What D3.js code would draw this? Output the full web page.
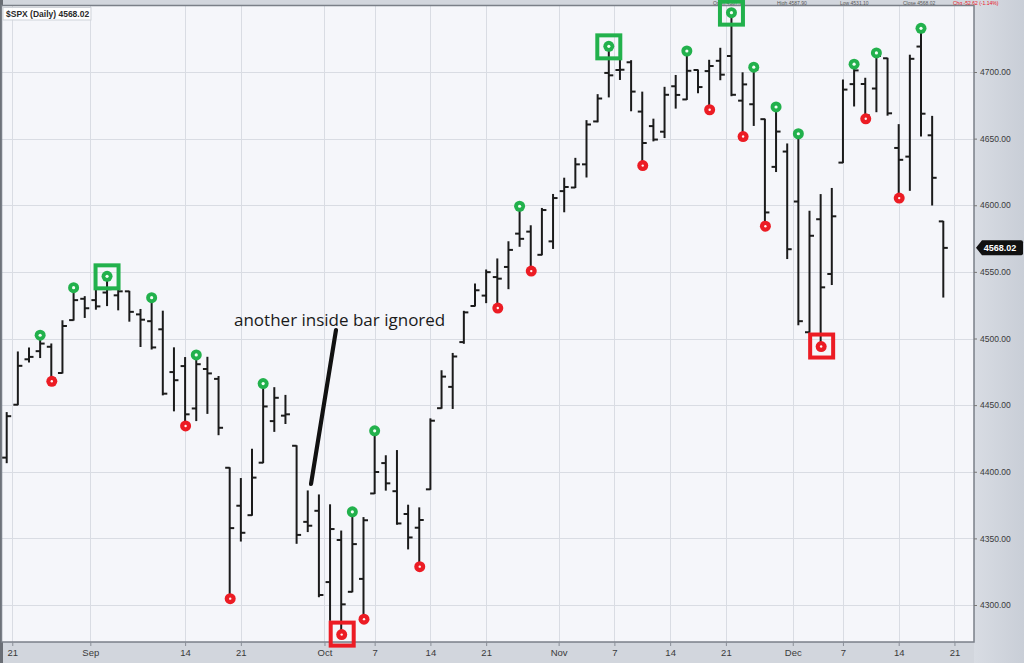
<!DOCTYPE html>
<html>
<head>
<meta charset="utf-8">
<script src="https://cdn.jsdelivr.net/npm/d3@7"></script>
<style>
  html, body { margin: 0; padding: 0; background: #cfd4dc; }
  svg { display: block; }
</style>
</head>
<body>
<svg id="chart" width="1024" height="663"></svg>
<script>
// ---------------- DATA ----------------
const dates = ["Aug 20","Aug 23","Aug 24","Aug 25","Aug 26","Aug 27","Aug 30","Aug 31",
  "Sep 1","Sep 2","Sep 3","Sep 7","Sep 8","Sep 9","Sep 10","Sep 13","Sep 14","Sep 15","Sep 16","Sep 17",
  "Sep 20","Sep 21","Sep 22","Sep 23","Sep 24","Sep 27","Sep 28","Sep 29","Sep 30",
  "Oct 1","Oct 4","Oct 5","Oct 6","Oct 7","Oct 8","Oct 11","Oct 12","Oct 13","Oct 14","Oct 15",
  "Oct 18","Oct 19","Oct 20","Oct 21","Oct 22","Oct 25","Oct 26","Oct 27","Oct 28","Oct 29",
  "Nov 1","Nov 2","Nov 3","Nov 4","Nov 5","Nov 8","Nov 9","Nov 10","Nov 11","Nov 12",
  "Nov 15","Nov 16","Nov 17","Nov 18","Nov 19","Nov 22","Nov 23","Nov 24","Nov 26","Nov 29","Nov 30",
  "Dec 1","Dec 2","Dec 3","Dec 6","Dec 7","Dec 8","Dec 9","Dec 10","Dec 13","Dec 14","Dec 15",
  "Dec 16","Dec 17","Dec 20"];

const opens = [4410.6,4450.3,4484.4,4490.5,4493.8,4474.1,4513.8,4529.8,
  4528.8,4534.5,4532.4,4535.4,4518.1,4513.0,4506.9,4474.8,4479.3,4447.5,4477.1,4469.7,
  4403.0,4374.5,4367.4,4406.8,4438.0,4442.1,4419.5,4362.4,4370.7,
  4317.2,4348.8,4309.9,4319.6,4383.7,4406.5,4385.4,4368.3,4358.0,4386.8,4447.7,
  4463.7,4497.3,4524.4,4532.2,4546.1,4553.7,4578.7,4580.2,4562.8,4572.9,
  4610.6,4613.3,4630.7,4662.9,4699.3,4701.5,4707.3,4670.3,4659.4,4655.2,
  4689.3,4679.4,4701.5,4700.7,4708.4,4712.0,4678.5,4675.8,4664.6,4628.8,4640.3,
  4602.8,4504.7,4589.5,4548.4,4632.0,4690.9,4691.0,4687.6,4710.3,4643.0,4636.5,
  4719.1,4652.5,4587.9];

const highs = [4444.4,4489.9,4492.8,4501.7,4495.9,4513.3,4537.4,4531.4,
  4537.1,4545.9,4541.5,4535.4,4521.8,4529.9,4520.5,4493.0,4485.7,4486.9,4485.9,4471.5,
  4403.0,4394.9,4416.8,4465.4,4463.1,4457.3,4419.5,4385.6,4382.6,
  4375.2,4355.5,4369.2,4365.6,4430.0,4412.0,4415.9,4374.9,4372.9,4439.7,4475.8,
  4488.8,4520.4,4540.9,4551.4,4559.7,4572.6,4598.5,4584.6,4597.6,4608.1,
  4620.3,4635.2,4663.5,4683.0,4718.5,4714.9,4708.5,4684.9,4664.6,4688.5,
  4697.4,4715.0,4701.5,4708.8,4717.8,4743.8,4699.4,4702.9,4664.6,4673.0,4646.0,
  4652.9,4595.5,4608.0,4612.6,4694.0,4705.1,4695.3,4713.6,4710.3,4660.5,4712.6,
  4732.0,4666.7,4587.9];

const lows = [4406.8,4450.3,4482.3,4485.7,4469.0,4474.1,4513.8,4515.8,
  4522.0,4524.7,4521.5,4513.0,4494.0,4492.1,4457.7,4445.7,4435.5,4438.4,4443.8,4427.8,
  4305.9,4348.0,4367.4,4406.8,4430.3,4436.2,4346.3,4355.1,4306.2,
  4288.5,4278.9,4309.9,4290.5,4383.7,4386.2,4360.6,4342.1,4329.9,4386.8,4447.7,
  4447.5,4496.4,4524.4,4526.9,4524.0,4537.4,4569.2,4551.7,4562.8,4567.6,
  4595.1,4613.3,4621.2,4662.6,4681.3,4694.4,4670.9,4630.9,4648.3,4650.8,
  4672.9,4679.4,4684.4,4672.8,4694.2,4682.2,4652.7,4659.9,4585.4,4625.3,4560.0,
  4510.3,4504.7,4495.1,4540.5,4632.0,4674.5,4666.0,4670.2,4667.6,4606.5,4611.2,
  4651.9,4600.2,4531.1];

const closes = [4441.7,4479.5,4486.2,4496.2,4470.0,4509.4,4528.8,4522.7,
  4524.1,4537.0,4535.4,4520.0,4514.1,4493.3,4458.6,4468.7,4443.1,4480.7,4473.8,4433.0,
  4357.7,4354.2,4395.6,4449.0,4455.5,4443.1,4352.6,4359.5,4307.5,
  4357.0,4300.5,4345.7,4363.6,4399.8,4391.3,4361.2,4350.7,4363.8,4438.3,4471.4,
  4486.5,4519.6,4536.2,4549.8,4544.9,4566.5,4574.8,4551.7,4596.4,4605.4,
  4613.7,4630.7,4660.6,4680.1,4697.5,4701.7,4685.3,4646.7,4649.3,4682.9,
  4682.8,4700.9,4688.7,4704.5,4698.0,4682.9,4690.7,4701.5,4594.6,4655.3,4567.0,
  4513.0,4577.1,4538.4,4591.7,4686.8,4701.2,4667.5,4712.0,4669.0,4634.1,4709.9,
  4668.7,4620.6,4568.0];

// swing markers
const highCircles = ["Aug 25","Aug 30","Sep 2","Sep 9","Sep 15","Sep 23","Oct 5","Oct 7","Oct 26",
  "Nov 5","Nov 16","Nov 22","Nov 24","Nov 29","Dec 1","Dec 8","Dec 10","Dec 16"];
const lowCircles = ["Aug 26","Sep 14","Sep 20","Oct 4","Oct 6","Oct 13","Oct 22","Oct 27","Nov 10",
  "Nov 18","Nov 23","Nov 26","Dec 3","Dec 9","Dec 14"];
const highSquares = ["Sep 2","Nov 5","Nov 22"];
const lowSquares = ["Oct 4","Dec 3"];

// axes
const yTickValues = [4300,4350,4400,4450,4500,4550,4600,4650,4700];
const xTickLabels = ["21","Sep","14","21","Oct","7","14","21","Nov","7","14","21","Dec","7","14","21"];
const xTickAt     = [0.5, 7.5, 16, 21, 28.5, 33, 38, 43, 49.5, 54.5, 59.5, 64.5, 70.5, 75, 80, 85];

const title = "$SPX (Daily) 4568.02";
const lastPrice = 4568.02;
const headerItems = ["Open 4587.90","High 4587.90","Low 4531.10","Close 4568.02","Chg -52.62 (-1.14%)"];
const annotation = "another inside bar ignored";

// ---------------- CHART ----------------
const W = 1024, H = 663;
const plot = {left: 1.5, top: 5.5, right: 974, bottom: 642};
const svg = d3.select("#chart");

const x = d3.scaleLinear().domain([0, 84]).range([6.7, 943.3]);
const y = d3.scaleLinear().domain([4300, 4700]).range([605, 72]);
const idx = d => dates.indexOf(d);

const bars = dates.map((d, i) => ({d, i, o: opens[i], h: highs[i], l: lows[i], c: closes[i]}));

// background
svg.append("rect").attr("width", W).attr("height", H).attr("fill", "#d2d6dd");
const grad = svg.append("defs").append("linearGradient").attr("id", "axg")
  .attr("x1", 0).attr("x2", 1).attr("y1", 0).attr("y2", 0);
grad.append("stop").attr("offset", "0%").attr("stop-color", "#d8dce3");
grad.append("stop").attr("offset", "100%").attr("stop-color", "#c9ced7");
svg.append("rect").attr("x", plot.right).attr("y", 0).attr("width", W - plot.right).attr("height", H).attr("fill", "url(#axg)");
svg.append("rect").attr("x", 0).attr("y", 0).attr("width", 3).attr("height", H).attr("fill", "#6a6e75");

// header strip text (tiny, inside the top strip)
const hx = [713, 777, 840, 903, 953];
svg.append("g").selectAll("text").data(headerItems).join("text")
  .attr("x", (d, i) => hx[i]).attr("y", 4.6)
  .attr("font-family", "Liberation Sans, Arial, sans-serif").attr("font-size", 5)
  .attr("fill", (d, i) => i === 4 ? "#e8141c" : "#555")
  .text(d => d);

// plot area
svg.append("rect").attr("x", plot.left).attr("y", plot.top)
  .attr("width", plot.right - plot.left).attr("height", plot.bottom - plot.top)
  .attr("fill", "#f5f6fa");

// grid
const grid = svg.append("g").attr("stroke", "#d9dce3").attr("stroke-width", 1);
grid.selectAll("line.h").data(yTickValues).join("line").attr("class", "h")
  .attr("x1", plot.left).attr("x2", plot.right)
  .attr("y1", d => Math.round(y(d)) + 0.5).attr("y2", d => Math.round(y(d)) + 0.5);
grid.selectAll("line.v").data(xTickAt).join("line").attr("class", "v")
  .attr("y1", plot.top).attr("y2", plot.bottom)
  .attr("x1", d => Math.round(x(d)) + 0.5).attr("x2", d => Math.round(x(d)) + 0.5);

// plot border
svg.append("rect").attr("x", plot.left).attr("y", plot.top)
  .attr("width", plot.right - plot.left).attr("height", plot.bottom - plot.top)
  .attr("fill", "none").attr("stroke", "#7a7f88").attr("stroke-width", 1.5);

// axes
const yAxis = d3.axisRight(y).tickValues(yTickValues).tickFormat(d => d.toFixed(2)).tickSize(3).tickPadding(3);
const gy = svg.append("g").attr("transform", `translate(${plot.right},0)`).call(yAxis);
gy.select(".domain").remove();
gy.selectAll("line").attr("stroke", "#777");
gy.selectAll("text").attr("font-family", "Liberation Sans, Arial, sans-serif").attr("font-size", 8.5).attr("fill", "#3a3a3a");

const xAxis = d3.axisBottom(x).tickValues(xTickAt).tickFormat((d, i) => xTickLabels[i]).tickSize(4).tickPadding(3);
const gx = svg.append("g").attr("transform", `translate(0,${plot.bottom})`).call(xAxis);
gx.select(".domain").remove();
gx.selectAll("line").attr("stroke", "#8a8f98");
gx.selectAll("text").attr("font-family", "Liberation Sans, Arial, sans-serif").attr("font-size", 9.5).attr("fill", "#3a3a3a");

// OHLC bars
const gb = svg.append("g").attr("stroke", "#1b1b1b").attr("stroke-width", 2);
gb.selectAll("line.hl").data(bars).join("line").attr("class", "hl")
  .attr("x1", b => x(b.i)).attr("x2", b => x(b.i))
  .attr("y1", b => y(b.h) - 0.5).attr("y2", b => y(b.l) + 0.5);
gb.selectAll("line.op").data(bars).join("line").attr("class", "op")
  .attr("x1", b => x(b.i) - 4.5).attr("x2", b => x(b.i))
  .attr("y1", b => y(b.o)).attr("y2", b => y(b.o));
gb.selectAll("line.cl").data(bars).join("line").attr("class", "cl")
  .attr("x1", b => x(b.i)).attr("x2", b => x(b.i) + 4.5)
  .attr("y1", b => y(b.c)).attr("y2", b => y(b.c));

const GREEN = "#22b14c", RED = "#ec1c24";

// squares
const sq = svg.append("g").attr("fill", "none").attr("stroke-width", 4);
sq.selectAll("rect.hs").data(highSquares).join("rect").attr("class", "hs")
  .attr("stroke", GREEN)
  .attr("x", d => x(idx(d)) - 11.5).attr("y", d => y(highs[idx(d)]) - 12)
  .attr("width", 23).attr("height", 23);
sq.selectAll("rect.ls").data(lowSquares).join("rect").attr("class", "ls")
  .attr("stroke", RED)
  .attr("x", d => x(idx(d)) - 10.5).attr("y", d => y(lows[idx(d)]) - 10.5)
  .attr("width", 23).attr("height", 23);

// circles
const gc = svg.append("g");
gc.selectAll("circle.hc").data(highCircles).join("circle").attr("class", "hc")
  .attr("cx", d => x(idx(d))).attr("cy", d => y(highs[idx(d)]) - 1)
  .attr("r", 5.5).attr("fill", GREEN);
gc.selectAll("circle.hci").data(highCircles).join("circle").attr("class", "hci")
  .attr("cx", d => x(idx(d))).attr("cy", d => y(highs[idx(d)]) - 1)
  .attr("r", 1.6).attr("fill", "#f4fff6");
gc.selectAll("circle.lc").data(lowCircles).join("circle").attr("class", "lc")
  .attr("cx", d => x(idx(d)) + 0.5).attr("cy", d => y(lows[idx(d)]) + 1.5)
  .attr("r", 5.5).attr("fill", RED);
gc.selectAll("circle.lci").data(lowCircles).join("circle").attr("class", "lci")
  .attr("cx", d => x(idx(d)) + 0.5).attr("cy", d => y(lows[idx(d)]) + 1.5)
  .attr("r", 1.2).attr("fill", "#fff4f4");

// title box
svg.append("rect").attr("x", 3).attr("y", 7.5).attr("width", 88).attr("height", 12.5)
  .attr("fill", "#ffffff").attr("fill-opacity", 0.85).attr("stroke", "#d0d3d9");
svg.append("text").attr("x", 6).attr("y", 17)
  .attr("font-family", "Liberation Sans, Arial, sans-serif").attr("font-size", 8.5).attr("font-weight", "bold")
  .attr("fill", "#2a2a2a").text(title);

// last price tag
const ly = y(lastPrice);
svg.append("path")
  .attr("d", `M${plot.right + 2},${ly} L${plot.right + 8},${ly - 7.5} H1021 a2,2 0 0 1 2,2 V${ly + 5.5} a2,2 0 0 1 -2,2 H${plot.right + 8} Z`)
  .attr("fill", "#111");
svg.append("text").attr("x", 1000).attr("y", ly + 3.3).attr("text-anchor", "middle")
  .attr("font-family", "Liberation Sans, Arial, sans-serif").attr("font-size", 9).attr("font-weight", "bold")
  .attr("fill", "#fff").text(lastPrice.toFixed(2));

// annotation
svg.append("line").attr("x1", 336).attr("y1", 330).attr("x2", 311).attr("y2", 484)
  .attr("stroke", "#111").attr("stroke-width", 4.2).attr("stroke-linecap", "round");
svg.append("text").attr("x", 234).attr("y", 326)
  .attr("font-family", "Open Sans, sans-serif").attr("font-size", 17)
  .attr("fill", "#1a1a1a").text(annotation);
</script>
</body>
</html>
